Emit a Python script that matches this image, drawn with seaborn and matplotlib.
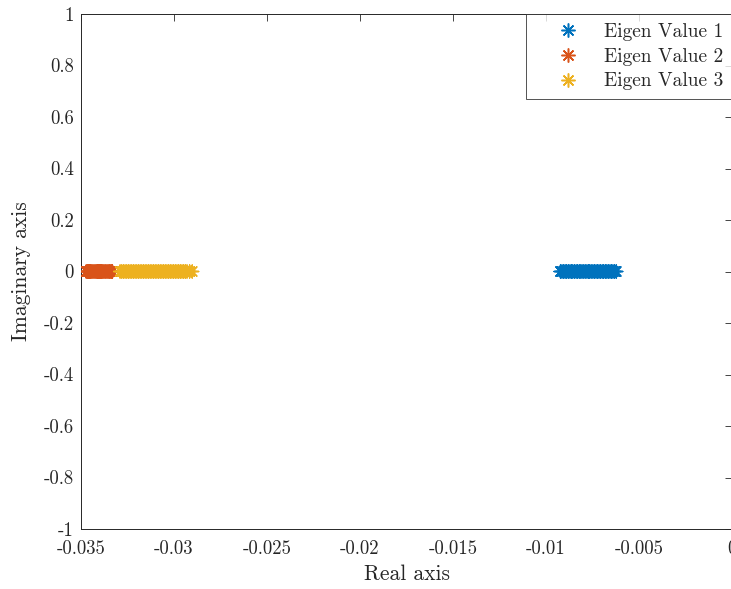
import pandas as pd
import matplotlib.pyplot as plt
import seaborn as sns

# eigenvalue traces (real part, imaginary part is zero)
ev1_real = [-0.00922, -0.00914, -0.00905, -0.00897, -0.00889, -0.00880, -0.00871, -0.00863,
            -0.00856, -0.00847, -0.00838, -0.00830, -0.00821, -0.00813, -0.00806, -0.00797,
            -0.00789, -0.00780, -0.00772, -0.00765, -0.00757, -0.00748, -0.00740, -0.00731,
            -0.00723, -0.00715, -0.00707, -0.00698, -0.00690, -0.00681, -0.00673, -0.00665,
            -0.00656, -0.00648, -0.00640, -0.00631, -0.00622]
ev2_real = [-0.03472, -0.03466, -0.03460, -0.03454, -0.03448, -0.03442, -0.03436, -0.03430,
            -0.03424, -0.03418, -0.03412, -0.03406, -0.03400, -0.03395, -0.03389, -0.03383,
            -0.03377, -0.03371, -0.03366, -0.03360, -0.03354, -0.03348, -0.03343, -0.03337,
            -0.03331]
ev3_real = [-0.03290, -0.03281, -0.03272, -0.03263, -0.03254, -0.03245, -0.03236, -0.03227,
            -0.03218, -0.03209, -0.03200, -0.03191, -0.03182, -0.03173, -0.03164, -0.03155,
            -0.03146, -0.03137, -0.03128, -0.03119, -0.03110, -0.03101, -0.03092, -0.03083,
            -0.03074, -0.03065, -0.03056, -0.03047, -0.03038, -0.03029, -0.03020, -0.03011,
            -0.03002, -0.02993, -0.02984, -0.02975, -0.02966, -0.02957, -0.02948, -0.02939,
            -0.02930, -0.02916, -0.02902]
series_names = ["Eigen Value 1", "Eigen Value 2", "Eigen Value 3"]
series_colors = ["#0072BD", "#D95319", "#EDB120"]

x_ticks = [-0.035, -0.03, -0.025, -0.02, -0.015, -0.01, -0.005, 0]
x_tick_labels = ["-0.035", "-0.03", "-0.025", "-0.02", "-0.015", "-0.01", "-0.005", "0"]
y_ticks = [-1, -0.8, -0.6, -0.4, -0.2, 0, 0.2, 0.4, 0.6, 0.8, 1]
y_tick_labels = ["-1", "-0.8", "-0.6", "-0.4", "-0.2", "0", "0.2", "0.4", "0.6", "0.8", "1"]

frames = []
for name, vals in zip(series_names, [ev1_real, ev2_real, ev3_real]):
    frames.append(pd.DataFrame({"Real": vals, "Imag": [0.0] * len(vals), "Series": name}))
df = pd.concat(frames, ignore_index=True)

sns.set_style("white")
plt.rcParams["font.family"] = ["cmr10", "DejaVu Serif"]
plt.rcParams["axes.unicode_minus"] = False

fig = plt.figure(figsize=(7.31, 5.89), dpi=100)
ax = fig.add_axes([81 / 731, 1 - 529 / 589, 651 / 731, 515 / 589])

sns.scatterplot(data=df, x="Real", y="Imag", hue="Series", palette=series_colors,
                marker=(8, 2, 0), s=85, linewidth=1.1, ax=ax, legend=False, zorder=3)

ax.set_xlim(-0.035, 0)
ax.set_ylim(-1, 1)
ax.set_xticks(x_ticks)
ax.set_xticklabels(x_tick_labels)
ax.set_yticks(y_ticks)
ax.set_yticklabels(y_tick_labels)
ax.tick_params(direction="in", length=5, width=0.6, colors="#262626", labelsize=13.5,
               top=True, right=True, labelcolor="#262626", pad=5)
ax.tick_params(axis="x", pad=8)
for sp in ax.spines.values():
    sp.set_color("#262626")
    sp.set_linewidth(0.7)
ax.set_xlabel("Real axis", fontsize=15.5, color="#262626", labelpad=5)
ax.set_ylabel("Imaginary axis", fontsize=15.5, color="#262626", labelpad=9)

handles = [plt.Line2D([], [], linestyle="none", marker=(8, 2, 0), markersize=10,
                      markeredgewidth=1.1, color=c) for c in series_colors]
leg = ax.legend(handles, series_names, loc="upper right", borderaxespad=0,
                fontsize=14, frameon=True, fancybox=False, handletextpad=0.15,
                labelspacing=0.35, borderpad=0.45, handlelength=3.4)
leg.get_frame().set_edgecolor("#262626")
leg.get_frame().set_linewidth(0.7)
for t in leg.get_texts():
    t.set_color("#262626")

fig.savefig("out.png", dpi=100)
